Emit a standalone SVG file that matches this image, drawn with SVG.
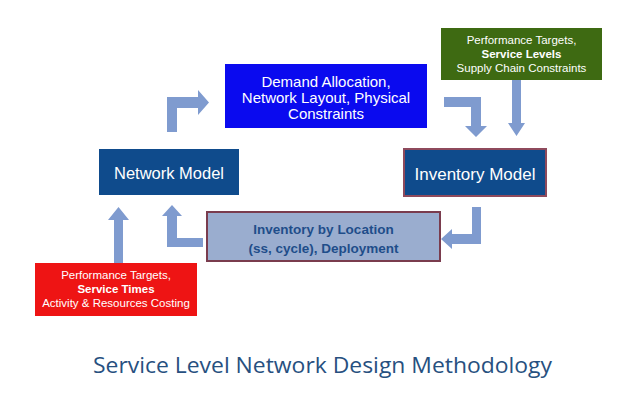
<svg xmlns="http://www.w3.org/2000/svg" width="640" height="397" viewBox="0 0 640 397">
<style>
.lbl{font-family:"Liberation Sans",Arial,sans-serif;text-anchor:middle;fill:#ffffff}
.arrow{fill:#7f9bcf}
.model{fill:#0f4b8c}
</style>
<rect width="640" height="397" fill="#ffffff"/>
<g id="connectors">
<path class="arrow" d="M167,132 L167,97 L198,97 L198,90 L209,102.5 L198,115 L198,108 L177,108 L177,132 Z"/>
<path class="arrow" d="M444,97 L481,97 L481,126 L487,126 L476,137 L465,126 L471,126 L471,107 L444,107 Z"/>
<path class="arrow" d="M512,80 L521,80 L521,123 L525,123 L516.5,136 L508,123 L512,123 Z"/>
<path class="arrow" d="M472,207 L481,207 L481,244 L452,244 L452,249 L441,239 L452,229 L452,234 L472,234 Z"/>
<path class="arrow" d="M203,247 L167,247 L167,216 L162,216 L172,205 L182,216 L177,216 L177,238 L203,238 Z"/>
<path class="arrow" d="M114,263 L114,220 L108,220 L118.5,207 L129,220 L123,220 L123,263 Z"/>
</g>
<g id="network-model">
<rect class="model" x="99" y="149" width="140" height="46"/>
<text class="lbl" x="169" y="179" font-size="16.5">Network Model</text>
</g>
<g id="demand">
<rect x="225" y="64" width="202" height="64" fill="#0a0aef"/>
<text class="lbl" x="326" y="87" font-size="15">Demand Allocation,</text>
<text class="lbl" x="326" y="103" font-size="15">Network Layout, Physical</text>
<text class="lbl" x="326" y="119" font-size="15">Constraints</text>
</g>
<g id="service-levels">
<rect x="441" y="28" width="161" height="52" fill="#3e6a12"/>
<text class="lbl" x="521.5" y="44" font-size="11.5">Performance Targets,</text>
<text class="lbl" x="521.5" y="58" font-size="11.5" font-weight="bold">Service Levels</text>
<text class="lbl" x="521.5" y="72" font-size="11.5">Supply Chain Constraints</text>
</g>
<g id="inventory-model">
<rect class="model" x="404" y="149" width="142" height="47" stroke="#8e4a5c" stroke-width="2"/>
<text class="lbl" x="475" y="180" font-size="17">Inventory Model</text>
</g>
<g id="inventory-location">
<rect x="207" y="212" width="233" height="49" fill="#9aadcf" stroke="#7a3c4e" stroke-width="2"/>
<text class="lbl" x="323.5" y="234" font-size="13.5" font-weight="bold" style="fill:#1f4d8a">Inventory by Location</text>
<text class="lbl" x="323.5" y="253" font-size="13.5" font-weight="bold" style="fill:#1f4d8a">(ss, cycle), Deployment</text>
</g>
<g id="service-times">
<rect x="35" y="263" width="162" height="53" fill="#ee1414"/>
<text class="lbl" x="116" y="279" font-size="11.5">Performance Targets,</text>
<text class="lbl" x="116" y="293" font-size="11.5" font-weight="bold">Service Times</text>
<text class="lbl" x="116" y="307" font-size="11.5">Activity &amp; Resources Costing</text>
</g>
<g id="title">
<text x="93" y="373" font-family="'Open Sans','Noto Sans',sans-serif" font-size="22.5" fill="#27507f" textLength="459" lengthAdjust="spacingAndGlyphs">Service Level Network Design Methodology</text>
</g>
</svg>
